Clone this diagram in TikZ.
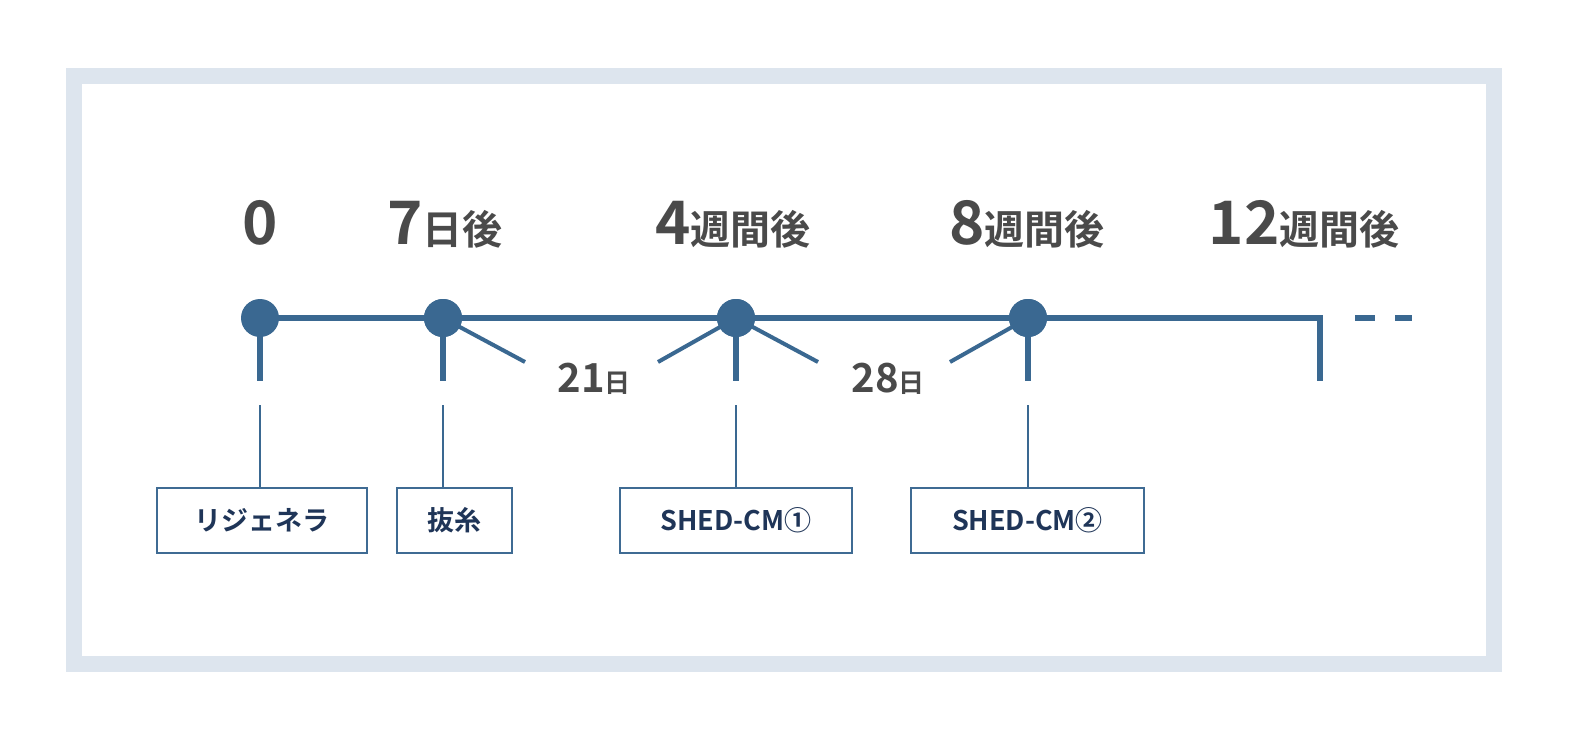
\documentclass[tikz,border=0pt]{standalone}
\usepackage{fontspec}
\setmainfont{Noto Sans CJK JP}[BoldFont={Noto Sans CJK JP Bold}]
\definecolor{frm}{HTML}{DDE5EE}
\definecolor{ln}{HTML}{3A6891}
\definecolor{bx}{HTML}{3F6B93}
\definecolor{tx}{HTML}{4A4A4A}
\definecolor{bt}{HTML}{1F3558}
\tikzset{
 dot/.style={circle,fill=ln,inner sep=0pt,minimum size=38pt},
 thick line/.style={draw=ln,line width=6pt,line cap=rect},
 thin line/.style={draw=ln,line width=2pt},
 lbl/.style={draw=bx,line width=2pt,minimum height=65pt,inner sep=0pt,text=bt,font=\bfseries\fontsize{27}{30}\selectfont},
 top/.style={text=tx,anchor=base,font=\bfseries},
}
\newcommand{\bigdig}[1]{{\fontsize{60}{62}\selectfont #1}}
\newcommand{\smkj}[1]{{\fontsize{40}{42}\selectfont #1}}
\begin{document}
\begin{tikzpicture}[x=1pt,y=-1pt]
\useasboundingbox (0,0) rectangle (1576,754);
\fill[white] (0,0) rectangle (1576,754);
\draw[frm,line width=16pt] (74,76) rectangle (1494,664);
% timeline
\coordinate (s) at (260,318); \coordinate (e) at (1320,318);
\draw[thick line] (s) -- (e);
\draw[ln,line width=6pt] (1355,318) -- (1375,318) (1395,318) -- (1412,318);
\foreach \n/\x in {a/260,b/443,c/736,d/1028}{
 \draw[thick line] (\x,318) -- (\x,378);
 \node[dot] (\n) at (\x,318) {};
}
\draw[thick line] (e) -- (1320,378);
% boxes
\node[lbl,minimum width=210pt] (ba) at (262,520) {リジェネラ};
\node[lbl,minimum width=115pt] (bb) at (454.5,520) {抜糸};
\node[lbl,minimum width=232pt] (bc) at (736,520) {SHED-CM①};
\node[lbl,minimum width=233pt] (bd) at (1027.5,520) {SHED-CM②};
\foreach \x/\n in {260/ba,443/bb,736/bc,1028/bd}{
 \coordinate (t\n) at (\x,405);
 \draw[thin line] (t\n) -- (\x,487);
}
% diagonals
\coordinate (p1) at (525,362); \coordinate (p2) at (658,362);
\coordinate (p3) at (818,362); \coordinate (p4) at (950,362);
\draw[ln,line width=4pt] (b.center) -- (p1) (p2) -- (c.center) -- (p3) (p4) -- (d.center);
\node[dot] at (b) {}; \node[dot] at (c) {}; \node[dot] at (d) {};
\node[text=tx,anchor=base,font=\bfseries] (l21) at (594,392) {{\fontsize{40}{42}\selectfont 21}{\fontsize{26}{28}\selectfont 日}};
\node[text=tx,anchor=base,font=\bfseries] (l28) at (888,392) {{\fontsize{40}{42}\selectfont 28}{\fontsize{26}{28}\selectfont 日}};
% top labels
\node[top] (t0) at (260,244) {\bigdig{0}};
\node[top] (t1) at (445,244) {\bigdig{7}\smkj{日後}};
\node[top] (t2) at (733,244) {\bigdig{4}\smkj{週間後}};
\node[top] (t3) at (1027,244) {\bigdig{8}\smkj{週間後}};
\node[top] (t4) at (1304,244) {\bigdig{12}\smkj{週間後}};
\end{tikzpicture}
\end{document}
